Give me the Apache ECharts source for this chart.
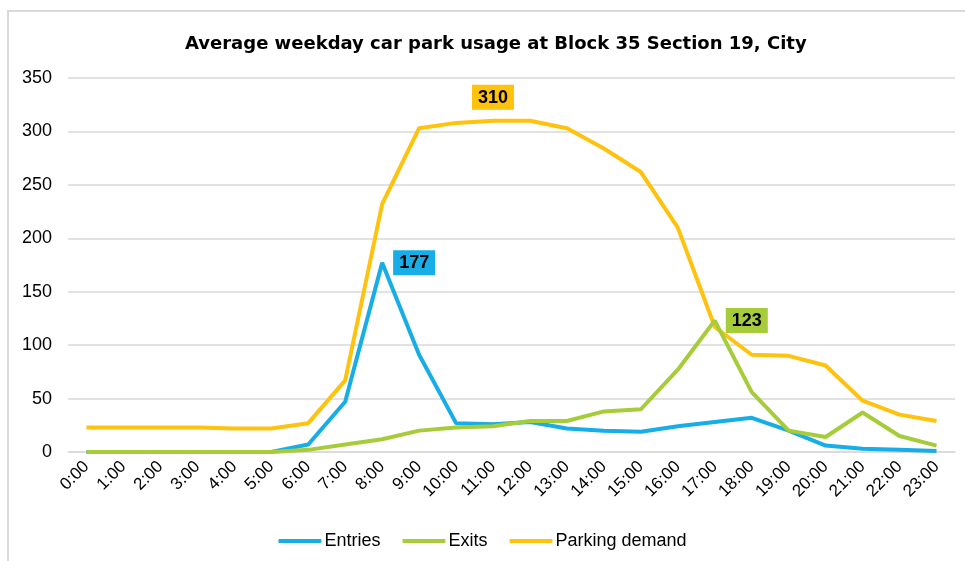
<!DOCTYPE html>
<html>
<head>
<meta charset="utf-8">
<script src="https://cdn.jsdelivr.net/npm/echarts@6/dist/echarts.min.js"></script>
<style>
html,body{margin:0;padding:0;background:#fff;}
#chart{width:965px;height:561px;}
</style>
</head>
<body>
<div id="chart"></div>
<script>
const hours = ['0:00','1:00','2:00','3:00','4:00','5:00','6:00','7:00','8:00','9:00','10:00','11:00','12:00','13:00','14:00','15:00','16:00','17:00','18:00','19:00','20:00','21:00','22:00','23:00'];
const entries = [0,0,0,0,0,0,7,47,177,91,27,26,28,22,20,19,24,28,32,20,6,3,2,1];
const exits = [0,0,0,0,0,0,2,7,12,20,23,24,29,29,38,40,77,123,56,20,14,37,15,6];
const parkingDemand = [23,23,23,23,22,22,27,67,232,303,308,310,310,303,284,262,210,117,91,90,81,48,35,29];
const yTicks = [0,50,100,150,200,250,300,350];
const peakLabels = {entries: 8, exits: 17, parking: 11};

const blue = '#17ade6', green = '#a6cd39', orange = '#ffc20e';
const FONT = 'Liberation Sans, Arial, sans-serif';

function withLabel(arr, idx, color, pos) {
  return arr.map((v, i) => i === idx ? {
    value: v,
    label: {
      show: true, position: pos, distance: 11,
      backgroundColor: color, color: '#000', fontWeight: 'bold',
      fontFamily: FONT, fontSize: 18,
      padding: [4, 6, 3, 6]
    }
  } : v);
}

const chart = echarts.init(document.getElementById('chart'), null, {renderer: 'canvas'});
chart.setOption({
  animation: false,
  backgroundColor: '#fff',
  graphic: [{
    type: 'rect', shape: {x: 8, y: 11, width: 980, height: 580},
    style: {fill: 'none', stroke: '#d9d9d9', lineWidth: 2}, silent: true, z: -1
  }],
  title: {
    text: 'Average weekday car park usage at Block 35 Section 19, City',
    left: 180, top: 30,
    textStyle: {fontFamily: 'DejaVu Sans, sans-serif', fontWeight: 'bold', fontSize: 18, color: '#000'}
  },
  legend: {
    bottom: 6, left: 'center',
    itemWidth: 43, itemHeight: 4, itemGap: 22,
    icon: 'roundRect',
    textStyle: {fontFamily: FONT, fontSize: 18, color: '#000', padding: [0,0,0,-2]},
    data: ['Entries', 'Exits', 'Parking demand']
  },
  grid: {left: 68, right: 10, top: 78, bottom: 109},
  xAxis: {
    type: 'category', data: hours, boundaryGap: true,
    axisLine: {show: true, lineStyle: {color: '#d9d9d9', width: 1.5}},
    axisTick: {show: false},
    axisLabel: {rotate: 45, interval: 0, fontFamily: FONT, fontSize: 17, color: '#000', margin: 12}
  },
  yAxis: {
    type: 'value', min: 0, max: 350, interval: 50,
    axisLine: {show: false}, axisTick: {show: false},
    splitLine: {lineStyle: {color: '#d9d9d9', width: 1.5}},
    axisLabel: {fontFamily: FONT, fontSize: 18, color: '#000', margin: 16,
      formatter: v => yTicks.includes(v) ? String(v) : ''}
  },
  series: [
    {name: 'Entries', type: 'line', data: withLabel(entries, peakLabels.entries, blue, 'right'),
     symbol: 'circle', symbolSize: 0, showSymbol: true, lineStyle: {width: 4, color: blue}, itemStyle: {color: blue}, z: 3},
    {name: 'Exits', type: 'line', data: withLabel(exits, peakLabels.exits, green, 'right'),
     symbol: 'circle', symbolSize: 0, showSymbol: true, lineStyle: {width: 4, color: green}, itemStyle: {color: green}, z: 4},
    {name: 'Parking demand', type: 'line', data: withLabel(parkingDemand, peakLabels.parking, orange, 'top'),
     symbol: 'circle', symbolSize: 0, showSymbol: true, lineStyle: {width: 4, color: orange}, itemStyle: {color: orange}, z: 2}
  ]
});
</script>
</body>
</html>
